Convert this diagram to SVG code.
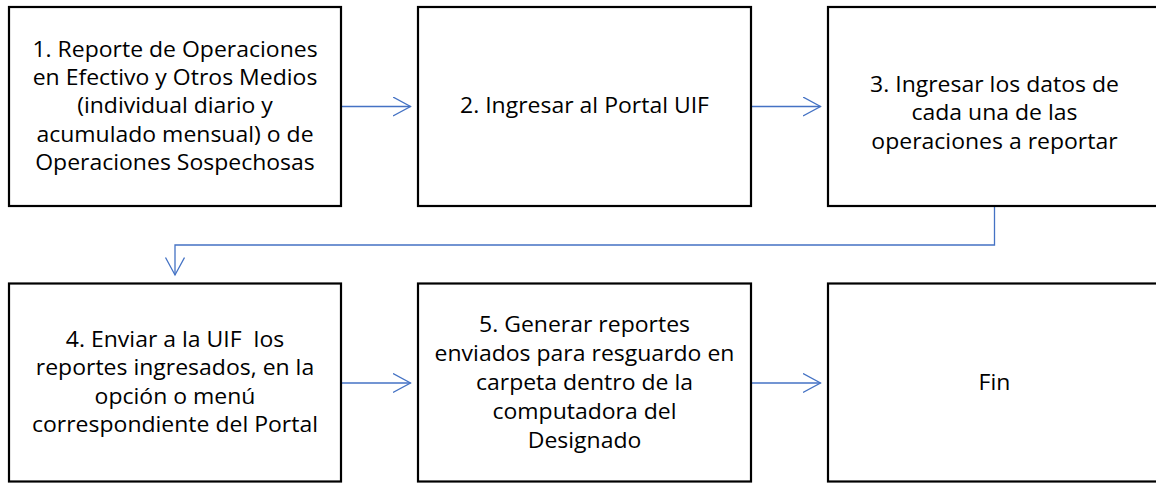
<svg xmlns="http://www.w3.org/2000/svg" width="1156" height="483" viewBox="0 0 1156 483">
<defs>
<style>
.box{fill:#fff;stroke:#000;stroke-width:2.2}
.t{font-family:"Open Sans","Noto Sans","Liberation Sans",sans-serif;font-size:21px;fill:#000;text-anchor:middle;white-space:pre}
.c{fill:none;stroke:#4472C4;stroke-width:1.3}
</style>
<marker id="ah" markerUnits="userSpaceOnUse" markerWidth="22" markerHeight="24" refX="18" refY="10" orient="auto" viewBox="0 0 22 24">
<path d="M0.5,0.5 L18,10 L0.5,19.5" fill="none" stroke="#4472C4" stroke-width="1.3"/>
</marker>
</defs>
<rect width="1156" height="483" fill="#fff"/>
<g id="connectors">
<line class="c" x1="341" y1="106.5" x2="410.5" y2="106.5" marker-end="url(#ah)"/>
<line class="c" x1="751" y1="106.5" x2="820.5" y2="106.5" marker-end="url(#ah)"/>
<polyline class="c" points="994.5,207 994.5,245 175,245 175,275" marker-end="url(#ah)"/>
<line class="c" x1="341" y1="383" x2="410.5" y2="383" marker-end="url(#ah)"/>
<line class="c" x1="751" y1="383" x2="820.5" y2="383" marker-end="url(#ah)"/>
</g>
<g id="n1">
<rect class="box" x="9" y="7" width="332" height="199"/>
<g transform="translate(175,0) scale(1.095,1)">
<text class="t" x="0" y="56.7">1. Reporte de Operaciones</text>
<text class="t" x="0" y="85">en Efectivo y Otros Medios</text>
<text class="t" x="0" y="113.3">(individual diario y</text>
<text class="t" x="0" y="141.7">acumulado mensual) o de</text>
<text class="t" x="0" y="170">Operaciones Sospechosas</text>
</g>
</g>
<g id="n2">
<rect class="box" x="418" y="7" width="333" height="199"/>
<g transform="translate(584.5,0) scale(1.095,1)">
<text class="t" x="0" y="113.5">2. Ingresar al Portal UIF</text>
</g>
</g>
<g id="n3">
<rect class="box" x="828" y="7" width="334" height="199"/>
<g transform="translate(994.5,0) scale(1.095,1)">
<text class="t" x="0" y="92">3. Ingresar los datos de</text>
<text class="t" x="0" y="120.3">cada una de las</text>
<text class="t" x="0" y="148.6">operaciones a reportar</text>
</g>
</g>
<g id="n4">
<rect class="box" x="9" y="283.5" width="332" height="198"/>
<g transform="translate(175,0) scale(1.095,1)">
<text class="t" x="0" y="347">4. Enviar a la UIF  los</text>
<text class="t" x="0" y="375.5">reportes ingresados, en la</text>
<text class="t" x="0" y="404">opción o menú</text>
<text class="t" x="0" y="432.5">correspondiente del Portal</text>
</g>
</g>
<g id="n5">
<rect class="box" x="418" y="283.5" width="333" height="198"/>
<g transform="translate(584.5,0) scale(1.095,1)">
<text class="t" x="0" y="332">5. Generar reportes</text>
<text class="t" x="0" y="361">enviados para resguardo en</text>
<text class="t" x="0" y="390">carpeta dentro de la</text>
<text class="t" x="0" y="419">computadora del</text>
<text class="t" x="0" y="448">Designado</text>
</g>
</g>
<g id="n6">
<rect class="box" x="828" y="283.5" width="334" height="198"/>
<g transform="translate(994.5,0) scale(1.095,1)">
<text class="t" x="0" y="390">Fin</text>
</g>
</g>
</svg>
